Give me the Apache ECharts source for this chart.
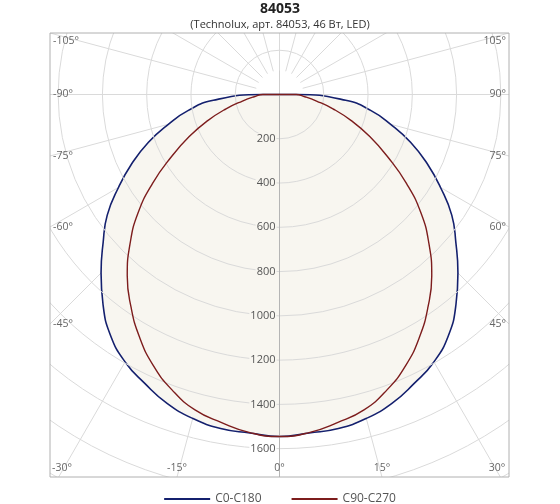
<!DOCTYPE html>
<html>
  <head>
    <meta charset="utf-8" />
    <script src="https://cdn.jsdelivr.net/npm/echarts@6/dist/echarts.min.js"></script>
  </head>
  <body style="margin:0">
    <div id="ldc" style="width: 560px; height: 504px;"></div>
    <script>
        // Data: gamma angles (deg from nadir), intensity in cd, symmetric halves
        var gammas = [0, 5, 10, 15, 20, 25, 30, 35, 40, 45, 50, 55, 60, 65, 70, 75, 80, 85, 90];
        var c0c180 = [1545, 1535, 1532, 1515, 1485, 1440, 1395, 1330, 1240, 1140, 1040, 950, 840, 735, 630, 520, 420, 300, 75];
        var c90c270 = [1545, 1533, 1505, 1475, 1420, 1350, 1265, 1170, 1070, 955, 835, 700, 565, 450, 345, 250, 170, 115, 75];

        // Angle labels drawn on the frame
        var edgeAngles = [-105, -90, -75, -60, -45, -30, -15, 0, 15, 30, 45, 60, 75, 90, 105];

        var colors = ['#14206e', '#7d1d1d'];
        var fill = '#f8f6f0';
        var gridColor = '#dadada';

        // Frame and polar centre (px)
        var box = { left: 50, top: 33, right: 509, bottom: 477 };
        var cx = 279.5, cy = 94.5;
        var rMax = 2200, rPx = 487;

        // build [-90..90] curve as [r, angle] pairs for polar
        function curve(vals) {
            var out = [[0, 270]];
            for (var i = gammas.length - 1; i > 0; i--) {
                out.push([vals[i], 360 - gammas[i]]);
            }
            for (var j = 0; j < gammas.length; j++) {
                out.push([vals[j], gammas[j]]);
            }
            out.push([0, 90]);
            return out;
        }

        // place angle labels where each ray meets the frame
        function edgeLabels() {
            var els = [];
            edgeAngles.forEach(function (a) {
                var rad = a * Math.PI / 180;
                var dx = Math.sin(rad), dy = Math.cos(rad);
                var tx = dx > 1e-6 ? (box.right - cx) / dx : dx < -1e-6 ? (box.left - cx) / dx : Infinity;
                var ty = dy > 1e-6 ? (box.bottom - cy) / dy : dy < -1e-6 ? (box.top - cy) / dy : Infinity;
                var el = { type: 'text', z: 60, style: { text: a + '°', fill: '#666', font: '10.5px "Open Sans", sans-serif', textVerticalAlign: 'middle' } };
                if (tx <= ty + 0.5) {
                    var y = Math.max(box.top + 8, Math.min(box.bottom - 8, cy + tx * dy));
                    el.style.y = y;
                    if (dx < 0) { el.style.x = box.left + 3; el.style.textAlign = 'left'; }
                    else { el.style.x = box.right - 3; el.style.textAlign = 'right'; }
                } else {
                    var x = Math.max(box.left + 12, Math.min(box.right - 12, cx + ty * dx));
                    el.style.x = x;
                    el.style.y = box.bottom - 9;
                    el.style.textAlign = 'center';
                }
                els.push(el);
            });
            return els;
        }

        var chart = echarts.init(document.getElementById('ldc'));

        // white masks clip the polar grid to the frame
        var masks = [
            { type: 'rect', z: 50, shape: { x: 0, y: 0, width: 560, height: box.top }, style: { fill: '#fff' } },
            { type: 'rect', z: 50, shape: { x: 0, y: box.bottom, width: 560, height: 504 - box.bottom }, style: { fill: '#fff' } },
            { type: 'rect', z: 50, shape: { x: 0, y: 0, width: box.left, height: 504 }, style: { fill: '#fff' } },
            { type: 'rect', z: 50, shape: { x: box.right, y: 0, width: 560 - box.right, height: 504 }, style: { fill: '#fff' } },
            { type: 'rect', z: 51, shape: { x: box.left, y: box.top, width: box.right - box.left, height: box.bottom - box.top }, style: { fill: 'none', stroke: '#b0b0b0', lineWidth: 1 } }
        ];

        var option = {
            animation: false,
            title: {
                text: '84053',
                subtext: '(Technolux, арт. 84053, 46 Вт, LED)',
                left: 'center',
                top: -3,
                itemGap: 3,
                z: 100,
                textStyle: { fontSize: 14, fontWeight: 'bold', color: '#222', fontFamily: 'Open Sans' },
                subtextStyle: { fontSize: 11, color: '#333', fontFamily: 'Open Sans' }
            },
            legend: {
                top: 488,
                left: 'center',
                z: 100,
                icon: 'rect',
                itemWidth: 46,
                itemHeight: 2,
                itemGap: 30,
                textStyle: { color: '#555', fontSize: 12, fontFamily: 'Open Sans' },
                data: ['C0-C180', 'C90-C270']
            },
            polar: [
                { center: [cx, cy], radius: rPx },
                { center: [cx, cy], radius: [24, rPx] }
            ],
            angleAxis: [
                {
                    polarIndex: 0,
                    type: 'value',
                    min: 0,
                    max: 360,
                    interval: 90,
                    startAngle: 270,
                    clockwise: false,
                    axisLine: { show: false },
                    axisTick: { show: false },
                    axisLabel: { show: false },
                    splitLine: { show: true, lineStyle: { color: '#cfcfcf', width: 1 } }
                },
                {
                    polarIndex: 1,
                    type: 'value',
                    min: 0,
                    max: 360,
                    interval: 15,
                    startAngle: 270,
                    clockwise: false,
                    axisLine: { show: false },
                    axisTick: { show: false },
                    axisLabel: { show: false },
                    splitLine: { show: true, lineStyle: { color: gridColor, width: 1 } }
                }
            ],
            radiusAxis: [
                {
                    polarIndex: 0,
                    type: 'value',
                    min: 0,
                    max: rMax,
                    interval: 200,
                    z: 3,
                    axisLine: { show: true, lineStyle: { color: '#b5b5b5' } },
                    axisTick: { show: false },
                    axisLabel: {
                        margin: -3,
                        align: 'right',
                        color: '#555',
                        fontSize: 11,
                        fontFamily: 'Open Sans',
                        formatter: function (v) {
                            if (v === 0 || v > 1600) return '';
                            return (v >= 1600 ? '{w|' : '{f|') + v + '}';
                        },
                        rich: {
                            f: { backgroundColor: fill, color: '#555', fontSize: 11, padding: [0, 1] },
                            w: { backgroundColor: '#fff', color: '#555', fontSize: 11, padding: [0, 1] }
                        }
                    },
                    splitLine: { show: true, lineStyle: { color: gridColor, width: 1 } }
                },
                {
                    polarIndex: 1,
                    type: 'value',
                    min: 0,
                    max: rMax,
                    axisLine: { show: false },
                    axisTick: { show: false },
                    axisLabel: { show: false },
                    splitLine: { show: false }
                }
            ],
            graphic: { elements: masks.concat(edgeLabels()) },
            series: [
                {
                    name: 'C0-C180',
                    type: 'line',
                    coordinateSystem: 'polar',
                    polarIndex: 0,
                    data: curve(c0c180),
                    symbol: 'none',
                    smooth: 0.5,
                    z: 2,
                    lineStyle: { color: colors[0], width: 1.6 },
                    itemStyle: { color: colors[0] },
                    areaStyle: { color: fill, opacity: 1 }
                },
                {
                    name: 'C90-C270',
                    type: 'line',
                    coordinateSystem: 'polar',
                    polarIndex: 0,
                    data: curve(c90c270),
                    symbol: 'none',
                    smooth: 0.5,
                    z: 4,
                    lineStyle: { color: colors[1], width: 1.4 },
                    itemStyle: { color: colors[1] }
                }
            ]
        };

        chart.setOption(option);
    </script>
  </body>
</html>
